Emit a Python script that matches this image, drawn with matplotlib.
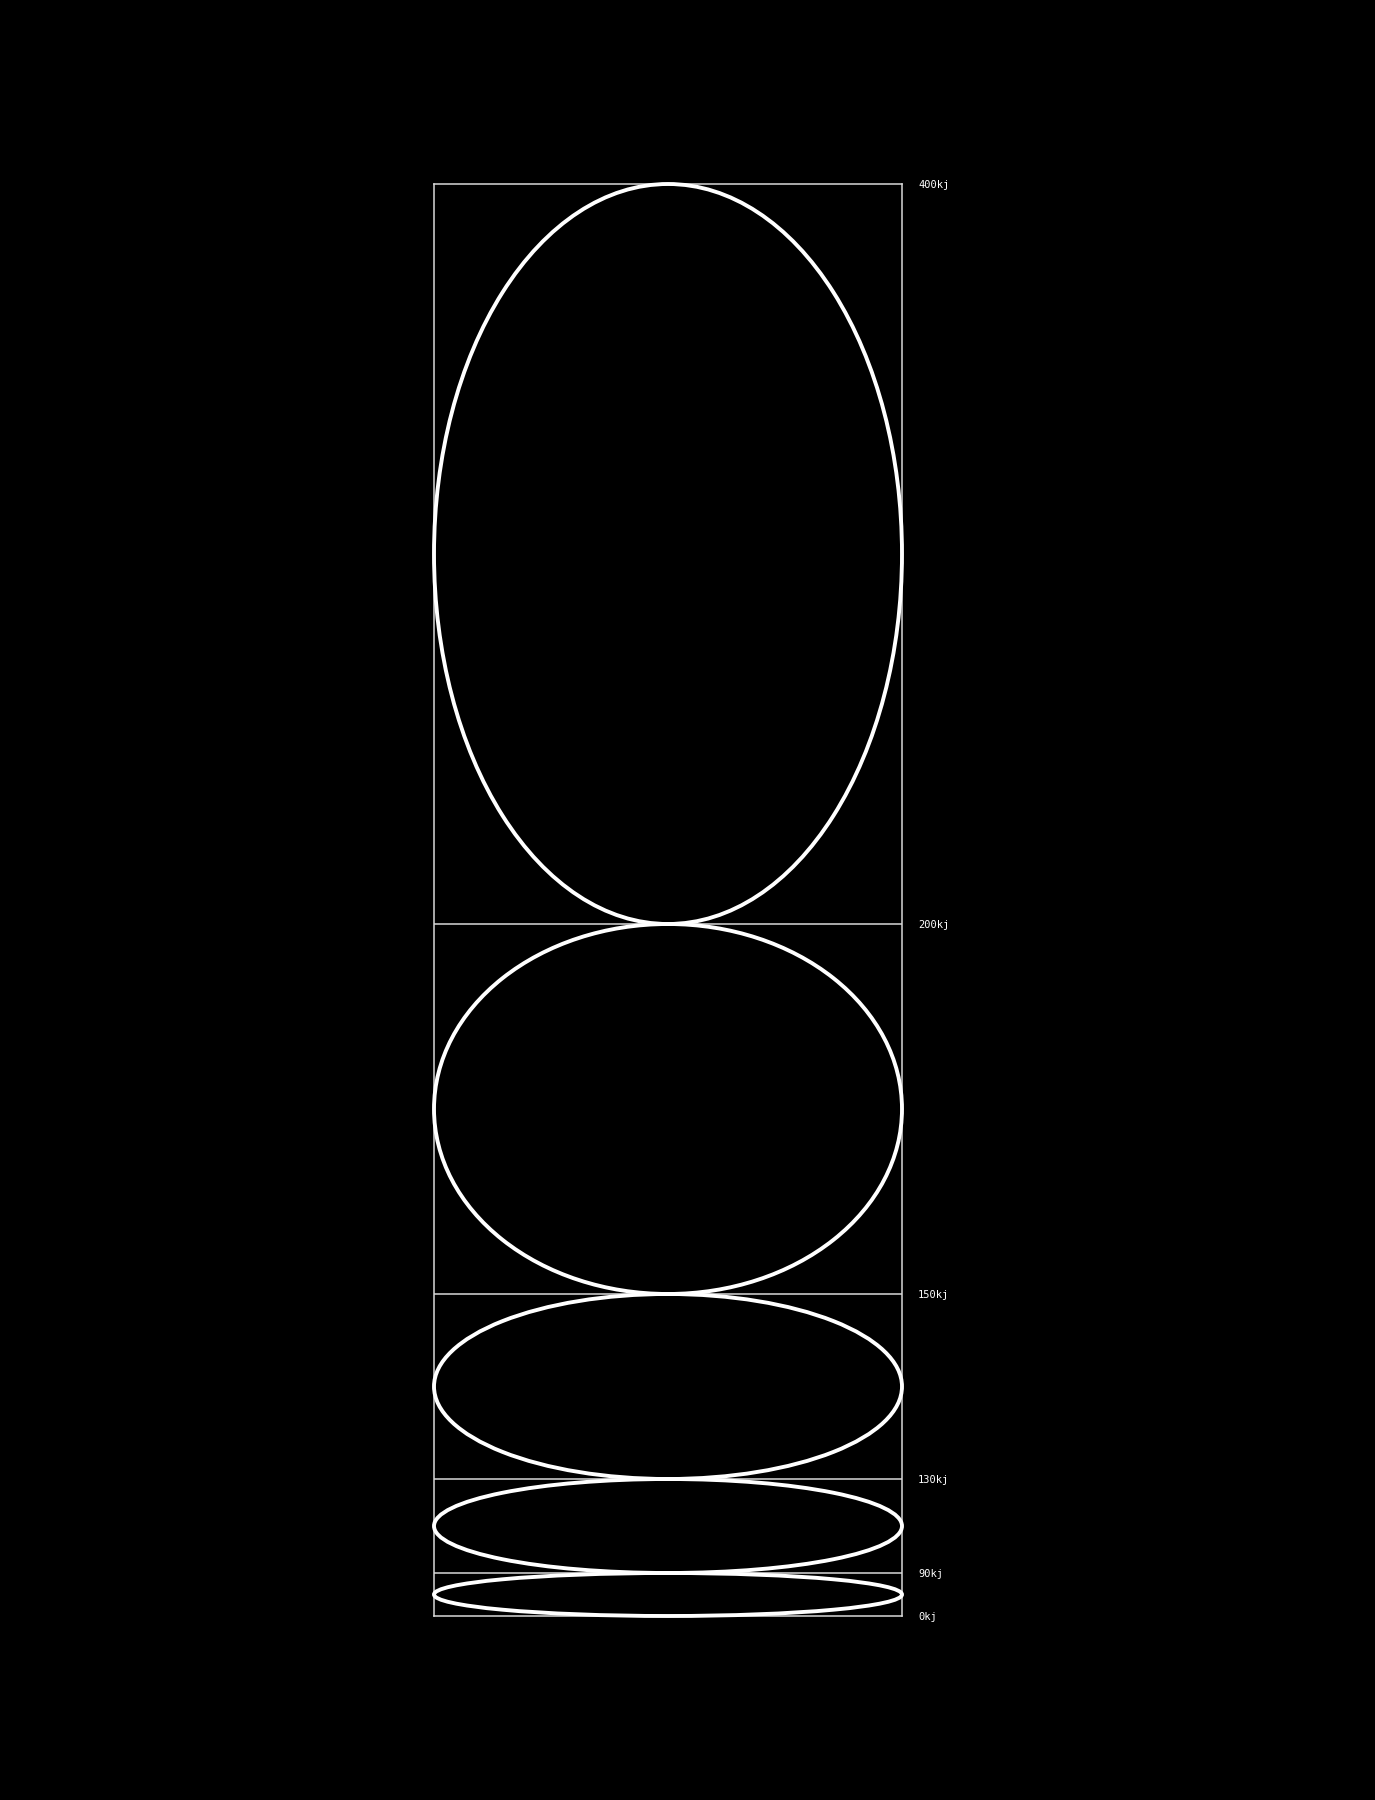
import numpy as np
import matplotlib
matplotlib.use("Agg")
import matplotlib.pyplot as plt
from matplotlib.patches import Ellipse

# energy bands, bottom to top, and the height each ellipse takes
tick_labels = ["0kj", "90kj", "130kj", "150kj", "200kj", "400kj"]
band_heights = [43, 94, 185, 370, 740]

edges = np.concatenate([[0], np.cumsum(band_heights)])

fig = plt.figure(figsize=(13.75, 18), dpi=100, facecolor="black")
ax = fig.add_axes([434 / 1375, 1 - 1616 / 1800, 468 / 1375, 1432 / 1800])
ax.set_facecolor("black")
ax.set_xlim(0, 1)
ax.set_ylim(0, edges[-1])

# band separators
for y in edges[1:-1]:
    ax.axhline(y, color="#d8d8d8", lw=1.1, zorder=1)

# one ellipse per band, filling its cell
for lo, h in zip(edges[:-1], band_heights):
    ax.add_patch(Ellipse((0.5, lo + h / 2), 1.0, h, fill=False,
                         edgecolor="white", lw=2.8, zorder=3, clip_on=False))

for s in ax.spines.values():
    s.set_color("#d8d8d8")
    s.set_linewidth(1.1)

ax.set_xticks([])
ax.yaxis.tick_right()
ax.set_yticks(edges)
ax.set_yticklabels(tick_labels, family="DejaVu Sans Mono", fontsize=7.5, color="white")
ax.tick_params(axis="y", length=0, pad=11.5)

fig.savefig("out.png", dpi=100, facecolor="black")
